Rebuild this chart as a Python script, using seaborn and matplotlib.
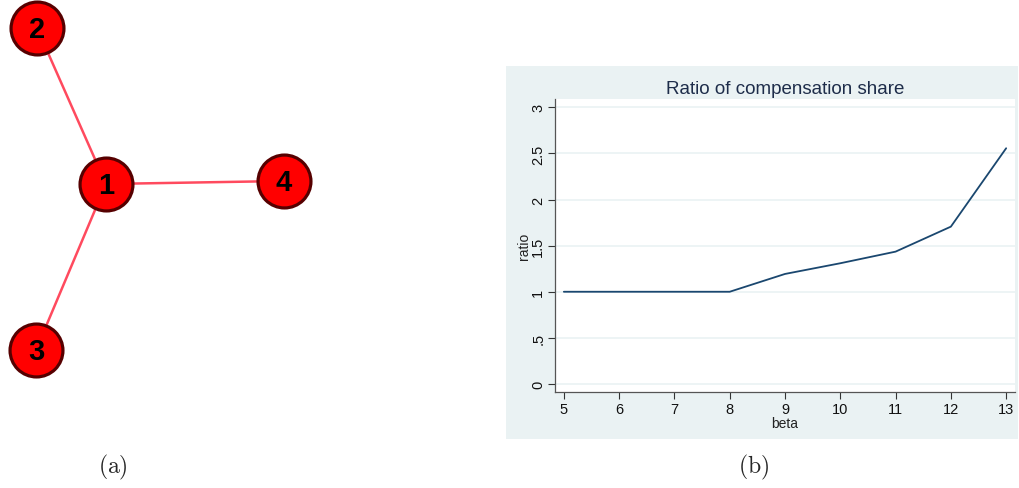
import matplotlib
matplotlib.use("Agg")
import matplotlib.pyplot as plt
import seaborn as sns
import pandas as pd
from matplotlib.patches import Rectangle

# Star network: node ids and layout positions (pixel-like layout space)
node_ids = ["1", "2", "3", "4"]
node_x = [106, 37, 36, 284]
node_y = [185, 29, 351, 182]
edge_pairs = [("1", "2"), ("1", "3"), ("1", "4")]

# Compensation share ratio by beta
beta = [5, 6, 7, 8, 9, 10, 11, 12, 13]
ratio = [1.0, 1.0, 1.0, 1.0, 1.193, 1.309, 1.435, 1.706, 2.556]
y_ticks = [0, 0.5, 1, 1.5, 2, 2.5, 3]
y_ticklabels = ["0", ".5", "1", "1.5", "2", "2.5", "3"]

sns.set_theme(style="white")
plt.rcParams["font.family"] = ["Liberation Sans", "DejaVu Sans"]
plt.rcParams["mathtext.fontset"] = "cm"

W, H = 1019, 489
fig = plt.figure(figsize=(W / 100, H / 100), dpi=100)

# ---------- (a) network ----------
axn = fig.add_axes([0, 0, 460 / W, 1])
axn.set_xlim(0, 460)
axn.set_ylim(H, 0)
axn.axis("off")

nodes = pd.DataFrame({"id": node_ids, "x": node_x, "y": node_y})
pos = {r.id: (r.x, r.y) for r in nodes.itertuples()}
for a, b in edge_pairs:
    seg = pd.DataFrame({"x": [pos[a][0], pos[b][0]], "y": [pos[a][1], pos[b][1]]})
    sns.lineplot(data=seg, x="x", y="y", ax=axn, color="#ff4a5e", lw=1.8,
                 sort=False, estimator=None, zorder=1)
sns.scatterplot(data=nodes, x="x", y="y", ax=axn, s=1450, color="#ff0000",
                edgecolor="#560000", linewidth=2.3, zorder=2, legend=False)
for r in nodes.itertuples():
    axn.text(r.x, r.y + 1, r.id, ha="center", va="center", fontsize=21,
             fontweight="bold", color="black", zorder=3)
axn.set_xlabel("")
axn.set_ylabel("")

# ---------- (b) line chart ----------
bg = Rectangle((506 / W, 1 - 440 / H), (1018 - 506) / W, (440 - 67) / H,
               transform=fig.transFigure, facecolor="#eaf2f3", edgecolor="none",
               zorder=-5)
fig.patches.append(bg)

axr = fig.add_axes([555 / W, 1 - 393 / H, (1015 - 555) / W, (393 - 100) / H])
axr.set_zorder(2)
axr.set_facecolor("white")
df = pd.DataFrame({"beta": beta, "ratio": ratio})
sns.lineplot(data=df, x="beta", y="ratio", ax=axr, color="#1a476f", lw=1.3)
axr.set_xlim(4.84, 13.16)
axr.set_ylim(-0.087, 3.09)
axr.set_xticks(beta)
axr.set_xticklabels([str(b) for b in beta], fontsize=10.5)
axr.set_yticks(y_ticks)
axr.set_yticklabels(y_ticklabels, fontsize=10.5, rotation=90, va="center")
for t in y_ticks:
    axr.axhline(t, color="#eaf2f3", lw=1.2, zorder=0)
axr.tick_params(axis="both", which="both", direction="out", length=5,
                width=0.8, color="#333333", labelcolor="#111111",
                left=True, bottom=True, pad=2)
for side in ["top", "right"]:
    axr.spines[side].set_visible(False)
for side in ["left", "bottom"]:
    axr.spines[side].set_color("#555555")
    axr.spines[side].set_linewidth(0.9)
axr.set_xlabel("beta", fontsize=10, color="#222222", labelpad=0)
axr.set_ylabel("ratio", fontsize=10, color="#222222", labelpad=0)
axr.set_title("Ratio of compensation share", fontsize=13.5, color="#1e2d4a",
              pad=4)

# ---------- captions ----------
fig.text(113 / W, 1 - 467 / H, r"$\mathrm{(a)}$", ha="center", va="center",
         fontsize=17)
fig.text(754 / W, 1 - 467 / H, r"$\mathrm{(b)}$", ha="center", va="center",
         fontsize=17)

fig.savefig("out.png", dpi=100)
